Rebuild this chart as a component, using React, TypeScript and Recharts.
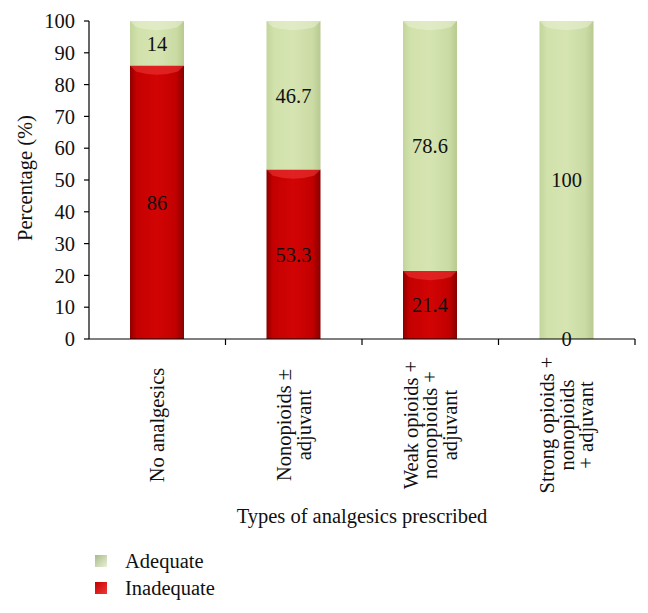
import React from "react";
import { Bar, BarChart, LabelList, XAxis, YAxis, Label } from "recharts";

const categories = [
  "No analgesics",
  "Nonopioids ± adjuvant",
  "Weak opioids + nonopioids + adjuvant",
  "Strong opioids + nonopioids + adjuvant",
];
const categoryLines = [
  ["No analgesics"],
  ["Nonopioids ±", "adjuvant"],
  ["Weak opioids +", "nonopioids +", "adjuvant"],
  ["Strong opioids +", "nonopioids", "+ adjuvant"],
];
const inadequate = [86, 53.3, 21.4, 0];
const adequate = [14, 46.7, 78.6, 100];
const yTicks = [0, 10, 20, 30, 40, 50, 60, 70, 80, 90, 100];

const series = [
  { key: "adequate", name: "Adequate", grad: "gradGreen", cap: "#e9f1d6", icon: "#aab98b" },
  { key: "inadequate", name: "Inadequate", grad: "gradRed", cap: "#ee3a3a", icon: "#c40000" },
];

const data = categories.map((c, i) => ({
  name: c,
  inadequate: inadequate[i],
  adequate: adequate[i],
}));

const W = 648;
const H = 613;
const FONT = "'Liberation Serif', 'Times New Roman', serif";
const FS = 20.5;
const margin = { top: 21, right: 13, left: 29, bottom: 84 };
const Y_AXIS_W = 60;
const plotW = W - margin.left - margin.right - Y_AXIS_W;
const band = plotW / categories.length;

function makeShape(grad: string, cap: string) {
  return (props: any) => {
    const { x, y, width, height } = props;
    if (!height || height <= 0) return <g />;
    const ch = Math.min(11, height);
    return (
      <g>
        <rect x={x} y={y} width={width} height={height} fill={`url(#${grad})`} />
        <path
          d={`M${x},${y} L${x + width},${y} L${x + width - 6},${y + ch * 0.55} Q${x + width / 2},${y + ch * 1.15} ${x + 6},${y + ch * 0.55} Z`}
          fill={cap}
          opacity={0.55}
        />
      </g>
    );
  };
}

function CategoryTick(props: any) {
  const { x, y, index } = props;
  const lines = categoryLines[index] ?? [];
  const lh = 19.5;
  const cy = y + 86;
  return (
    <g>
      <line x1={x + band / 2} y1={y} x2={x + band / 2} y2={y + 6} stroke="#000" strokeWidth={1.2} />
      <text
        transform={`translate(${x},${cy}) rotate(-90)`}
        textAnchor="middle"
        fontFamily={FONT}
        fontSize={FS}
        fill="#111"
      >
        {lines.map((l, i) => (
          <tspan key={i} x={0} y={(i - (lines.length - 1) / 2) * lh} dy="0.35em">
            {l}
          </tspan>
        ))}
      </text>
    </g>
  );
}

export default function App() {
  return (
    <div style={{ position: "absolute", left: 0, top: 0, width: W, height: H, background: "#fff" }}>
      <BarChart width={W} height={H} data={data} margin={margin} barSize={54}>
        <defs>
          <linearGradient id="gradRed" x1="0" y1="0" x2="1" y2="0">
            <stop offset="0%" stopColor="#8e0000" />
            <stop offset="12%" stopColor="#c40000" />
            <stop offset="50%" stopColor="#d20404" />
            <stop offset="85%" stopColor="#c20000" />
            <stop offset="100%" stopColor="#880000" />
          </linearGradient>
          <linearGradient id="gradGreen" x1="0" y1="0" x2="1" y2="0">
            <stop offset="0%" stopColor="#c3d49c" />
            <stop offset="15%" stopColor="#d2e2ac" />
            <stop offset="50%" stopColor="#d5e4b1" />
            <stop offset="85%" stopColor="#cbdba4" />
            <stop offset="100%" stopColor="#b8ca90" />
          </linearGradient>
        </defs>
        <XAxis
          dataKey="name"
          interval={0}
          height={190}
          tickSize={0}
          tickMargin={0}
          tick={<CategoryTick />}
          axisLine={{ stroke: "#000", strokeWidth: 1.2 }}
        >
          <Label
            value="Types of analgesics prescribed"
            position="insideBottom"
            offset={6}
            style={{ fontFamily: FONT, fontSize: FS, fill: "#111" }}
          />
        </XAxis>
        <YAxis
          width={Y_AXIS_W}
          domain={[0, 100]}
          ticks={yTicks}
          interval={0}
          tickSize={5}
          tickMargin={9}
          tick={{ fontFamily: FONT, fontSize: FS, fill: "#111" }}
          tickLine={{ stroke: "#000", strokeWidth: 1.2 }}
          axisLine={{ stroke: "#000", strokeWidth: 1.2 }}
        >
          <Label
            content={(p: any) => {
              const vb = p.viewBox;
              const cx = vb.x - 4;
              const cy = vb.y + vb.height / 2 - 2;
              return (
                <text
                  transform={`translate(${cx},${cy}) rotate(-90)`}
                  textAnchor="middle"
                  dy="0.35em"
                  fontFamily={FONT}
                  fontSize={FS}
                  fill="#111"
                >
                  Percentage (%)
                </text>
              );
            }}
          />
        </YAxis>
        <Bar
          dataKey="inadequate"
          stackId="a"
          isAnimationActive={false}
          shape={makeShape("gradRed", "#ee3a3a")}
        >
          <LabelList
            dataKey="inadequate"
            position="center"
            style={{ fontFamily: FONT, fontSize: FS, fill: "#111" }}
          />
        </Bar>
        <Bar
          dataKey="adequate"
          stackId="a"
          isAnimationActive={false}
          shape={makeShape("gradGreen", "#e9f1d6")}
        >
          <LabelList
            dataKey="adequate"
            position="center"
            style={{ fontFamily: FONT, fontSize: FS, fill: "#111" }}
          />
        </Bar>
      </BarChart>
      {series.map((s, i) => (
        <div
          key={s.key}
          style={{
            position: "absolute",
            left: 95,
            top: 551 + i * 27,
            height: 20,
            display: "flex",
            alignItems: "center",
            fontFamily: FONT,
            fontSize: FS,
            color: "#111",
          }}
        >
          <span
            style={{
              display: "inline-block",
              width: 12,
              height: 12,
              background: `linear-gradient(135deg, ${s.icon}, ${s.cap})`,
              marginRight: 18,
            }}
          />
          {s.name}
        </div>
      ))}
    </div>
  );
}
